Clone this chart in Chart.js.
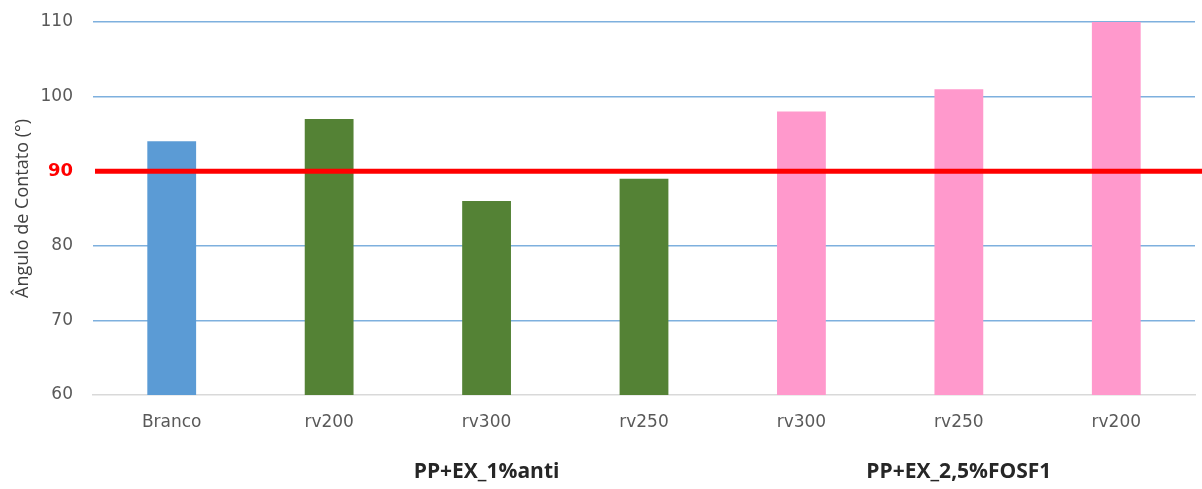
<!DOCTYPE html>
<html>
<head>
<meta charset="utf-8">
<script src="https://cdn.jsdelivr.net/npm/chart.js@4/dist/chart.umd.min.js"></script>
<style>
  html, body { margin: 0; padding: 0; background: #ffffff; }
  #wrap { width: 1202px; height: 489px; position: relative; }
</style>
</head>
<body>
<div id="wrap"><canvas id="chart"></canvas></div>
<script>
// Contact angle per sample
const categories = ['Branco', 'rv200', 'rv300', 'rv250', 'rv300', 'rv250', 'rv200'];
const angles = [94, 97, 86, 89, 98, 101, 110];
const barColors = ['#5b9bd5', '#548235', '#548235', '#548235', '#ff99cc', '#ff99cc', '#ff99cc'];

// Sample groups shown under the category labels (first/last category index)
const groupNames = ['PP+EX_1%anti', 'PP+EX_2,5%FOSF1'];
const groupStart = [1, 4];
const groupEnd = [3, 6];

// Y axis range and hydrophobicity threshold
const yMin = 60, yMax = 110, yStep = 10;
const threshold = 90;

const TICK_FONT = "'DejaVu Sans', sans-serif";
const TEXT_FONT = "'Open Sans', sans-serif";

// Thick red line at the threshold, drawn above the bars
const thresholdLine = {
  id: 'thresholdLine',
  afterDatasetsDraw(chart) {
    const { ctx, chartArea, scales } = chart;
    const y = scales.y.getPixelForValue(threshold);
    ctx.save();
    ctx.strokeStyle = '#ff0000';
    ctx.lineWidth = 5;
    ctx.beginPath();
    ctx.moveTo(chartArea.left + 2, y);
    ctx.lineTo(chart.width, y);
    ctx.stroke();
    ctx.restore();
  }
};

// Group captions centred under their categories
const groupLabels = {
  id: 'groupLabels',
  afterDraw(chart) {
    const { ctx, scales } = chart;
    ctx.save();
    ctx.font = "bold 21px " + TEXT_FONT;
    ctx.fillStyle = '#262626';
    ctx.textAlign = 'center';
    ctx.textBaseline = 'middle';
    groupNames.forEach((name, i) => {
      const x = (scales.x.getPixelForValue(groupStart[i]) + scales.x.getPixelForValue(groupEnd[i])) / 2;
      ctx.fillText(name, x, 472);
    });
    ctx.restore();
  }
};

new Chart(document.getElementById('chart'), {
  type: 'bar',
  data: {
    labels: categories,
    datasets: [{
      data: angles,
      backgroundColor: barColors,
      borderWidth: 0,
      barPercentage: 0.31,
      categoryPercentage: 1.0
    }]
  },
  options: {
    responsive: true,
    maintainAspectRatio: false,
    animation: false,
    layout: { padding: { top: 22, right: 7, bottom: 0, left: 0 } },
    plugins: {
      legend: { display: false },
      tooltip: { enabled: false }
    },
    scales: {
      x: {
        grid: { display: false, drawTicks: false },
        border: { display: true, color: '#d9d9d9', width: 1.5 },
        ticks: {
          color: '#595959',
          font: { family: TICK_FONT, size: 17 },
          padding: 17
        },
        afterFit(scale) {
          scale.height = 94;
          scale.paddingLeft = 0;
          scale.paddingRight = 0;
        }
      },
      y: {
        min: yMin,
        max: yMax,
        ticks: {
          stepSize: yStep,
          padding: 20,
          color: (c) => c.tick && c.tick.value === threshold ? '#ff0000' : '#595959',
          font: (c) => c.tick && c.tick.value === threshold
            ? { family: TICK_FONT, size: 18, weight: 'bold' }
            : { family: TICK_FONT, size: 17 }
        },
        grid: {
          drawTicks: false,
          color: (c) => {
            if (c.tick.value === yMin || c.tick.value === threshold) return 'rgba(0,0,0,0)';
            return '#7eb0de';
          },
          lineWidth: 1.5
        },
        border: { display: false },
        title: {
          display: true,
          text: 'Ângulo de Contato (°)',
          color: '#404040',
          font: { family: TEXT_FONT, size: 18 },
          padding: { top: 12, bottom: 0 }
        },
        afterFit(scale) {
          scale.width = 93;
          scale.paddingTop = 0;
          scale.paddingBottom = 0;
        }
      }
    }
  },
  plugins: [thresholdLine, groupLabels]
});
</script>
</body>
</html>
